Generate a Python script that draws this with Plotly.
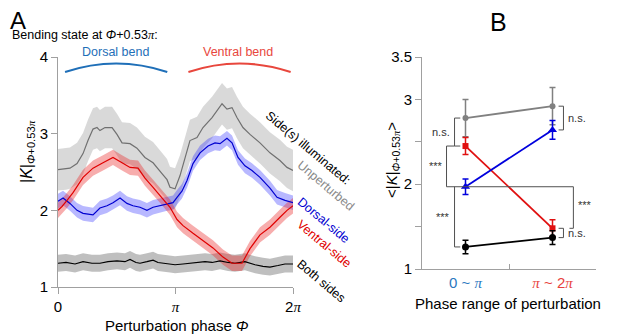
import plotly.graph_objects as go

# The page body has an 8px margin, so the figure is sized to fill the rest of the window.
OFF = 8
FW, FH = 617 - OFF, 334 - OFF
FONT = "Liberation Sans, Arial, sans-serif"
PI = "<span style='font-family:Liberation Serif'><i>π</i></span>"

# ---------------- Panel A data (phase in units of pi) ----------------
gray_phase = [0, 0.068, 0.102, 0.162, 0.213, 0.255, 0.298, 0.332, 0.357, 0.4, 0.46, 0.502,
              0.545, 0.613, 0.672, 0.74, 0.809, 0.885, 0.928, 0.953, 0.996, 1.038, 1.081,
              1.123, 1.183, 1.234, 1.311, 1.362, 1.396, 1.438, 1.481, 1.523, 1.574, 1.634,
              1.719, 1.804, 1.889, 1.949, 2.0]
gray_mean = [2.53, 2.54, 2.55, 2.61, 2.74, 2.91, 3.06, 3.08, 3.04, 3.08, 3.08, 2.99,
             2.88, 2.87, 2.81, 2.69, 2.62, 2.48, 2.40, 2.30, 2.28, 2.45, 2.70,
             2.91, 2.95, 3.08, 3.21, 3.32, 3.39, 3.32, 3.34, 3.21, 3.08, 2.99,
             2.88, 2.75, 2.65, 2.56, 2.52]
gray_sem = 0.27

blue_phase = [0, 0.043, 0.102, 0.162, 0.213, 0.298, 0.357, 0.417, 0.468, 0.528, 0.587, 0.638,
              0.698, 0.757, 0.809, 0.868, 0.928, 0.979, 1.013, 1.055, 1.098, 1.149, 1.209,
              1.277, 1.336, 1.379, 1.438, 1.481, 1.532, 1.591, 1.651, 1.719, 1.804, 1.864,
              1.932, 2.0]
blue_mean = [2.12, 2.16, 2.09, 2.00, 1.96, 1.94, 2.03, 2.06, 2.10, 2.16, 2.09, 2.06,
             2.04, 2.00, 2.04, 2.06, 2.09, 2.10, 2.17, 2.25, 2.39, 2.61, 2.75,
             2.84, 2.88, 2.87, 2.94, 2.88, 2.69, 2.58, 2.52, 2.43, 2.29, 2.17,
             2.13, 2.10]
blue_sem = 0.095

red_phase = [0, 0.034, 0.077, 0.128, 0.213, 0.298, 0.383, 0.468, 0.545, 0.613, 0.681, 0.74,
             0.809, 0.885, 0.953, 1.013, 1.064, 1.149, 1.234, 1.319, 1.404, 1.481, 1.566,
             1.634, 1.719, 1.804, 1.889, 1.949, 2.0]
red_mean = [2.00, 2.05, 2.13, 2.23, 2.43, 2.55, 2.62, 2.69, 2.62, 2.56, 2.55, 2.42,
            2.30, 2.17, 2.04, 1.88, 1.80, 1.70, 1.61, 1.51, 1.39, 1.31, 1.31,
            1.50, 1.68, 1.78, 1.91, 2.00, 2.06]
red_sem = 0.10

black_phase = [0, 0.068, 0.145, 0.213, 0.289, 0.357, 0.426, 0.502, 0.570, 0.613, 0.664, 0.698,
               0.757, 0.809, 0.851, 0.894, 0.953, 0.996, 1.064, 1.123, 1.191, 1.251, 1.311,
               1.379, 1.447, 1.506, 1.591, 1.677, 1.745, 1.804, 1.872, 1.932, 2.0]
black_mean = [1.31, 1.32, 1.30, 1.33, 1.31, 1.31, 1.33, 1.34, 1.33, 1.36, 1.32, 1.31,
              1.33, 1.35, 1.32, 1.31, 1.30, 1.29, 1.30, 1.31, 1.32, 1.33, 1.32,
              1.34, 1.32, 1.31, 1.33, 1.29, 1.27, 1.26, 1.28, 1.30, 1.30]
black_sem = 0.11

a_xticks = [0, 1, 2]
a_xticklabels = ["0", PI, "2" + PI]
a_yticks = [1, 2, 3, 4]

# ---------------- Panel B data ----------------
b_cats = [0, 1]
b_catlabels = ["<span style='color:#2a78c0'>0 ~ " + PI + "</span>",
               "<span style='color:#e8413c'>" + PI + " ~ 2" + PI + "</span>"]
gray_b = [2.78, 2.92]; gray_b_err = [0.22, 0.22]
red_b = [2.45, 1.48]; red_b_err = [0.10, 0.10]
blue_b = [1.97, 2.64]; blue_b_err = [0.09, 0.11]
black_b = [1.26, 1.37]; black_b_err = [0.08, 0.08]
b_yticks = [1, 2, 3, 3.5]
b_yticklabels = ["1", "2", "3", "3.5"]
b_yminor = [1.5, 2.5]


def DX(px):
    return (px - OFF) / FW


def DY(py):
    return 1 - (py - OFF) / FH


fig = go.Figure()


def band(xs, mean, sem, color):
    up = [m + sem for m in mean]
    lo = [m - sem for m in mean]
    fig.add_trace(go.Scatter(x=xs + xs[::-1], y=up + lo[::-1], fill="toself",
                             fillcolor=color, line=dict(width=0), mode="lines",
                             hoverinfo="skip", showlegend=False, xaxis="x", yaxis="y"))


band(gray_phase, gray_mean, gray_sem, "rgba(128,128,128,0.30)")
band(black_phase, black_mean, black_sem, "rgba(0,0,0,0.25)")
band(blue_phase, blue_mean, blue_sem, "rgba(40,40,255,0.33)")
band(red_phase, red_mean, red_sem, "rgba(235,40,40,0.38)")

for xs, ys, c in [(gray_phase, gray_mean, "#707070"), (black_phase, black_mean, "#000000"),
                  (blue_phase, blue_mean, "#0000d0"), (red_phase, red_mean, "#e00000")]:
    fig.add_trace(go.Scatter(x=xs, y=ys, mode="lines", line=dict(color=c, width=1.2),
                             showlegend=False, xaxis="x", yaxis="y"))

# Panel B traces
for ys, err, c, sym, sz in [(gray_b, gray_b_err, "#808080", "circle", 6),
                            (red_b, red_b_err, "#e01010", "square", 6),
                            (blue_b, blue_b_err, "#0000dd", "triangle-up", 8),
                            (black_b, black_b_err, "#000000", "circle", 7)]:
    fig.add_trace(go.Scatter(x=b_cats, y=ys, mode="lines+markers",
                             line=dict(color=c, width=1.8),
                             marker=dict(color=c, symbol=sym, size=sz),
                             error_y=dict(type="data", array=err, color=c, thickness=1.5, width=3),
                             showlegend=False, xaxis="x2", yaxis="y2"))

axcommon = dict(showgrid=False, zeroline=False, showline=True, linecolor="#a0a0a0",
                linewidth=1, ticks="outside", ticklen=6, tickcolor="#a0a0a0",
                automargin=False,
                tickfont=dict(family=FONT, size=15, color="black"))

fig.update_layout(
    template="none",
    width=FW, height=FH, margin=dict(l=0, r=0, t=0, b=0, pad=0, autoexpand=False),
    paper_bgcolor="white", plot_bgcolor="white", showlegend=False,
    xaxis=dict(domain=[DX(58), DX(293)], range=[0, 2], tickvals=a_xticks,
               ticktext=a_xticklabels, anchor="y", **axcommon),
    yaxis=dict(domain=[DY(287), DY(57)], range=[1, 4], tickvals=a_yticks, anchor="x",
               **axcommon),
    xaxis2=dict(domain=[DX(422), DX(596)], range=[-0.5, 1.5], tickvals=b_cats,
                ticktext=b_catlabels, anchor="y2",
                **{**axcommon, "ticks": "", "ticklen": 0},
                minor=dict(tickvals=[0.5], ticks="inside", ticklen=5, tickcolor="#a0a0a0")),
    yaxis2=dict(domain=[DY(269), DY(57)], range=[1, 3.5], tickvals=b_yticks,
                ticktext=b_yticklabels, anchor="x2", **axcommon,
                minor=dict(tickvals=b_yminor, ticks="outside", ticklen=6, tickcolor="#a0a0a0")),
    font=dict(family=FONT, color="black"),
)

ann = []


def text(px, py, s, size=13, color="black", angle=0, xa="center", ya="middle"):
    ann.append(dict(x=DX(px), y=DY(py), xref="paper", yref="paper", text=s, showarrow=False,
                    textangle=angle, xanchor=xa, yanchor=ya,
                    font=dict(family=FONT, size=size, color=color)))


PHI = "<i>Φ</i>"
text(18, 21, "A", size=24)
text(498, 22, "B", size=25)
text(10, 35, "Bending state at " + PHI + "+0.53" + PI + ":", size=12.5, xa="left")
text(115, 52, "Dorsal bend", size=12.5, color="#1f6fb8")
text(238, 52, "Ventral bend", size=12.5, color="#e8473d")
text(27, 152, "|<i>K</i>|<sub>" + PHI + "+0.53" + PI + "</sub>", size=16, angle=-90)
text(176, 325, "Perturbation phase " + PHI, size=15)
text(308, 148, "Side(s) illuminated:", size=12.5, angle=40)
text(326, 186, "Unperturbed", size=12.5, color="#8a8a8a", angle=40)
text(323, 220, "Dorsal-side", size=12.5, color="#0000d0", angle=40)
text(324, 244, "Ventral-side", size=12.5, color="#e00000", angle=40)
text(321, 281, "Both sides", size=12.5, angle=40)
text(392, 160, "&lt;|<i>K</i>|<sub>" + PHI + "+0.53" + PI + "</sub>&gt;", size=15, angle=-90)
text(508, 303, "Phase range of perturbation", size=15)


# Panel B significance labels (data coords)
def btext(x, y, s, xa):
    ann.append(dict(x=x, y=y, xref="x2", yref="y2", text=s, showarrow=False,
                    xanchor=xa, yanchor="middle",
                    font=dict(family=FONT, size=11, color="#333333")))


btext(-0.15, (gray_b[0] + red_b[0]) / 2, "n.s.", "right")
btext(-0.24, (red_b[0] + blue_b[0]) / 2, "***", "right")
btext(-0.15, (blue_b[0] + black_b[0]) / 2, "***", "right")
btext(1.27, (blue_b[0] + red_b[1]) / 2 + 0.03, "***", "left")
btext(1.16, (gray_b[1] + blue_b[1]) / 2, "n.s.", "left")
btext(1.16, (red_b[1] + black_b[1]) / 2, "n.s.", "left")
fig.update_layout(annotations=ann)

shapes = []
# arcs above panel A
for x0, x1, c in [(0.06, 0.93, "#1f6fb8"), (1.11, 1.98, "#e8473d")]:
    ye = DY(72)
    yc = DY(55)
    shapes.append(dict(type="path", xref="x", yref="paper",
                       path=f"M {x0},{ye} Q {(x0 + x1) / 2},{yc} {x1},{ye}",
                       line=dict(color=c, width=2)))


def seg(pts):
    p = "M " + " L ".join(f"{x},{y}" for x, y in pts)
    shapes.append(dict(type="path", xref="x2", yref="y2", path=p,
                       line=dict(color="#505050", width=1)))


seg([(-0.06, gray_b[0]), (-0.126, gray_b[0]), (-0.126, red_b[0]), (-0.06, red_b[0])])
seg([(-0.126, red_b[0]), (-0.218, red_b[0]), (-0.218, blue_b[0]), (1.24, blue_b[0]),
     (1.24, red_b[1]), (1.195, red_b[1])])
seg([(-0.126, blue_b[0]), (-0.126, black_b[0]), (-0.06, black_b[0])])
seg([(1.07, gray_b[1]), (1.126, gray_b[1]), (1.126, blue_b[1]), (1.07, blue_b[1])])
seg([(1.07, red_b[1]), (1.126, red_b[1]), (1.126, black_b[1]), (1.07, black_b[1])])
fig.update_layout(shapes=shapes)

fig.write_html("out.html")
